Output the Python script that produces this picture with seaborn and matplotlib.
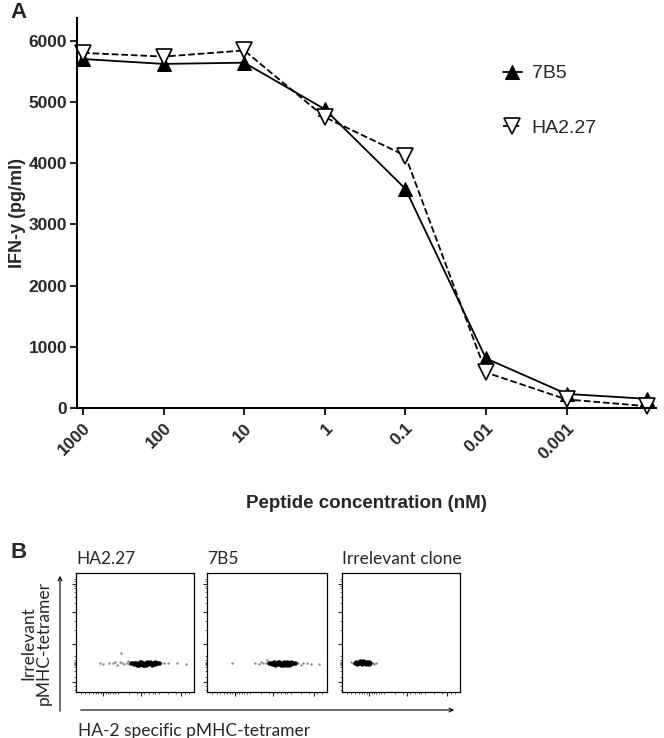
import numpy as np
import pandas as pd
import matplotlib
matplotlib.use("Agg")
import matplotlib.pyplot as plt
import seaborn as sns

sns.set_style("white")
plt.rcParams['font.family'] = ['Liberation Sans', 'DejaVu Sans']

# Panel A data: IFN-y release vs peptide concentration
conc_labels = ['1000', '100', '10', '1', '0.1', '0.01', '0.001', '']
ifn_7b5 = [5700, 5620, 5640, 4880, 3580, 810, 230, 150]
ifn_ha227 = [5800, 5740, 5840, 4750, 4120, 580, 140, 30]

# Panel B data: flow cytometry events (fraction of axis range)
# dense core of each population
ha227_core_x = [0.47, 0.49, 0.50, 0.52, 0.53, 0.54, 0.55, 0.56, 0.57, 0.58, 0.59, 0.60, 0.61,
                0.62, 0.63, 0.64, 0.65, 0.66, 0.67, 0.68, 0.69, 0.51, 0.55, 0.59, 0.63, 0.67,
                0.53, 0.57, 0.61, 0.65, 0.70, 0.48]
ha227_core_y = [0.24, 0.235, 0.245, 0.23, 0.24, 0.25, 0.235, 0.245, 0.24, 0.23, 0.24, 0.25,
                0.235, 0.245, 0.24, 0.23, 0.245, 0.24, 0.235, 0.245, 0.24, 0.245, 0.25, 0.23,
                0.25, 0.25, 0.23, 0.23, 0.24, 0.235, 0.24, 0.24]
ha227_sp_x = [0.20, 0.23, 0.28, 0.31, 0.35, 0.37, 0.39, 0.41, 0.33, 0.43, 0.45, 0.72, 0.75,
              0.78, 0.86, 0.93, 0.38, 0.44]
ha227_sp_y = [0.24, 0.235, 0.24, 0.245, 0.23, 0.25, 0.24, 0.235, 0.25, 0.245, 0.235, 0.24,
              0.24, 0.245, 0.24, 0.235, 0.33, 0.26]
b7b5_core_x = [0.52, 0.54, 0.55, 0.57, 0.58, 0.59, 0.60, 0.61, 0.62, 0.63, 0.64, 0.65, 0.66,
               0.67, 0.68, 0.69, 0.70, 0.71, 0.72, 0.56, 0.60, 0.64, 0.68, 0.58, 0.62, 0.66,
               0.70, 0.55, 0.73, 0.53]
b7b5_core_y = [0.24, 0.235, 0.245, 0.23, 0.24, 0.25, 0.235, 0.245, 0.24, 0.23, 0.24, 0.245,
               0.235, 0.25, 0.245, 0.24, 0.235, 0.24, 0.245, 0.25, 0.25, 0.25, 0.23, 0.235,
               0.23, 0.23, 0.25, 0.24, 0.24, 0.245]
b7b5_sp_x = [0.21, 0.40, 0.43, 0.45, 0.47, 0.49, 0.76, 0.78, 0.80, 0.83, 0.87, 0.93, 0.50]
b7b5_sp_y = [0.24, 0.24, 0.235, 0.25, 0.24, 0.245, 0.24, 0.23, 0.245, 0.24, 0.235, 0.235, 0.27]
irr_core_x = [0.11, 0.12, 0.13, 0.14, 0.15, 0.16, 0.17, 0.18, 0.19, 0.20, 0.21, 0.22, 0.23,
              0.24, 0.13, 0.15, 0.17, 0.19, 0.21, 0.23, 0.14, 0.18, 0.22, 0.16, 0.20]
irr_core_y = [0.245, 0.25, 0.24, 0.255, 0.245, 0.25, 0.24, 0.245, 0.24, 0.235, 0.245, 0.24,
              0.25, 0.24, 0.235, 0.26, 0.235, 0.255, 0.255, 0.235, 0.245, 0.26, 0.245, 0.24, 0.25]
irr_sp_x = [0.08, 0.09, 0.26, 0.27, 0.29]
irr_sp_y = [0.25, 0.24, 0.245, 0.235, 0.24]

fig = plt.figure(figsize=(6.64, 7.38), dpi=100)
W, H = 664, 738


def px_axes(x0, y0, x1, y1):
    return fig.add_axes([x0 / W, 1 - y1 / H, (x1 - x0) / W, (y1 - y0) / H])


# ---------------- Panel A ----------------
ax = px_axes(77, 18, 656, 408)
pos = np.arange(len(conc_labels))
sns.lineplot(x=pos, y=ifn_7b5, ax=ax, color='black', lw=1.3, marker='^', markersize=10,
             markerfacecolor='black', markeredgecolor='black', label='7B5', clip_on=False)
sns.lineplot(x=pos, y=ifn_ha227, ax=ax, color='black', lw=1.3, linestyle='--', marker='v',
             markersize=11, markerfacecolor='white', markeredgecolor='black', markeredgewidth=1.2,
             label='HA2.27', clip_on=False)
ax.set_xlim(-0.075, 7.11)
ax.set_ylim(0, 6370)
ax.set_xticks(pos[:7])
ax.set_xticklabels(conc_labels[:7], rotation=45, ha='right', rotation_mode='anchor',
                   fontsize=12.5, fontweight='bold')
ax.set_yticks([0, 1000, 2000, 3000, 4000, 5000, 6000])
ax.set_yticklabels(['0', '1000', '2000', '3000', '4000', '5000', '6000'], fontsize=12.5,
                   fontweight='bold')
ax.tick_params(axis='both', direction='out', length=5, width=1.5, left=True, bottom=True, pad=2)
ax.tick_params(axis='x', pad=4)
for s in ['top', 'right']:
    ax.spines[s].set_visible(False)
for s in ['left', 'bottom']:
    ax.spines[s].set_linewidth(1.5)
    ax.spines[s].set_color('black')
ax.set_ylabel('IFN-y (pg/ml)', fontsize=13, fontweight='bold', labelpad=2)
ax.set_xlabel('Peptide concentration (nM)', fontsize=13.5, fontweight='bold', labelpad=24)
ax.legend(loc='upper left', bbox_to_anchor=(0.705, 0.925), frameon=False, fontsize=14,
          handlelength=1.0, handletextpad=0.5, labelspacing=1.9)

fig.text(10 / W, 1 - 12 / H, 'A', fontsize=16, fontweight='bold', va='center', ha='left')
fig.text(10 / W, 1 - 552 / H, 'B', fontsize=16, fontweight='bold', va='center', ha='left')

# ---------------- Panel B ----------------
panels = [('HA2.27', ha227_core_x, ha227_core_y, ha227_sp_x, ha227_sp_y, 76, 194),
          ('7B5', b7b5_core_x, b7b5_core_y, b7b5_sp_x, b7b5_sp_y, 207, 327),
          ('Irrelevant clone', irr_core_x, irr_core_y, irr_sp_x, irr_sp_y, 342, 460)]
yminor = [0.02, 0.05, 0.08, 0.13, 0.18, 0.21, 0.225, 0.235, 0.245, 0.255, 0.27, 0.30, 0.40,
          0.52, 0.60, 0.67, 0.75, 0.80, 0.84, 0.87, 0.89, 0.91, 0.93, 0.95]
xminor = [0.04, 0.08, 0.11, 0.14, 0.17, 0.19, 0.21, 0.23, 0.25, 0.27, 0.29, 0.31, 0.33, 0.36,
          0.45, 0.52, 0.58, 0.62, 0.65, 0.67, 0.70, 0.78, 0.85, 0.89, 0.92, 0.96]
for title, cx, cy, sx, sy, x0, x1 in panels:
    bx = px_axes(x0, 573, x1, 692)
    sns.scatterplot(x=sx, y=sy, ax=bx, color='#888888', s=3, linewidth=0)
    sns.scatterplot(x=cx, y=cy, ax=bx, color='black', s=10, linewidth=0, marker='o')
    bx.set_xlim(0, 1)
    bx.set_ylim(0, 1)
    bx.set_xticks([0.23, 0.55, 0.89])
    bx.set_yticks([0.08, 0.40, 0.67, 0.91])
    bx.set_xticks(xminor, minor=True)
    bx.set_yticks(yminor, minor=True)
    bx.set_xticklabels([])
    bx.set_yticklabels([])
    bx.tick_params(which='major', direction='out', length=3, width=0.8, left=True, bottom=True)
    bx.tick_params(which='minor', direction='out', length=1.5, width=0.5, left=True, bottom=True)
    for s in bx.spines.values():
        s.set_linewidth(0.9)
        s.set_color('black')
    bx.text(0, 1.05, title, transform=bx.transAxes, fontsize=12.5,
            family=['Lato', 'DejaVu Sans'], ha='left', va='bottom')

# axis arrows for panel B
fig.add_artist(matplotlib.patches.FancyArrowPatch((60 / W, 1 - 714 / H), (60 / W, 1 - 573 / H),
               transform=fig.transFigure, arrowstyle='->', mutation_scale=7, lw=0.8, color='black'))
fig.add_artist(matplotlib.patches.FancyArrowPatch((78 / W, 1 - 710 / H), (457 / W, 1 - 710 / H),
               transform=fig.transFigure, arrowstyle='->', mutation_scale=7, lw=0.8, color='black'))
fig.text(36 / W, 1 - 643 / H, 'Irrelevant\npMHC-tetramer', rotation=90, ha='center', va='center',
         fontsize=12.5, family=['Lato', 'DejaVu Sans'], linespacing=1.0)
fig.text(78 / W, 1 - 731 / H, 'HA-2 specific pMHC-tetramer', ha='left', va='center', fontsize=12.5,
         family=['Lato', 'DejaVu Sans'])

fig.savefig('out.png', dpi=100)
